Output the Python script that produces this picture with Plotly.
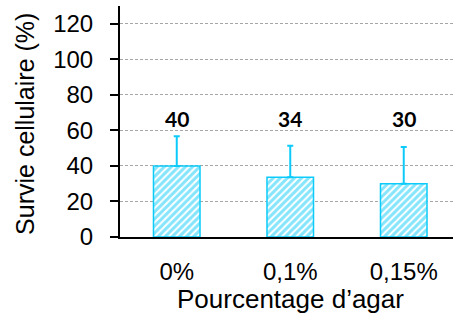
import plotly.graph_objects as go

categories = ["0%", "0,1%", "0,15%"]
survie = [40, 33.6, 30]
erreur = [16.7, 17.8, 20.6]
labels = ["40", "34", "30"]
y_ticks = [0, 20, 40, 60, 80, 100, 120]
y_max = 130

cyan = "#0CCBFA"
font = "Liberation Sans, Arial, sans-serif"

fig = go.Figure()
fig.add_trace(go.Bar(
    x=list(range(len(categories))),
    y=survie,
    width=0.41,
    marker=dict(
        color="white",
        line=dict(color=cyan, width=1.5),
        pattern=dict(shape="/", fgcolor=cyan, bgcolor="white", size=5, solidity=0.6),
    ),
    error_y=dict(type="data", symmetric=False, array=erreur,
                 arrayminus=[0] * len(erreur), color=cyan, thickness=2, width=3),
))

for i, t in enumerate(labels):
    fig.add_annotation(x=i, y=66.5, text="<b>%s</b>" % t, showarrow=False,
                       font=dict(family="Lato, sans-serif", size=21, color="black"))

fig.add_annotation(x=1, y=-0.27, xref="x", yref="paper", text="Pourcentage d’agar",
                   showarrow=False, yanchor="middle",
                   font=dict(family=font, size=26, color="black"))

fig.add_annotation(x=-0.285, y=0.49, xref="paper", yref="paper", text="Survie cellulaire (%)",
                   showarrow=False, textangle=-90, xanchor="center", yanchor="middle",
                   font=dict(family=font, size=25, color="black"))

fig.update_layout(
    width=453, height=322,
    margin=dict(l=120, r=0, t=6, b=85),
    plot_bgcolor="white", paper_bgcolor="white",
    showlegend=False,
    font=dict(family=font, size=24, color="black"),
    xaxis=dict(
        range=[-0.5, 2.434], automargin=False,
        tickmode="array", tickvals=list(range(len(categories))), ticktext=categories,
        showline=True, linecolor="black", linewidth=2,
        ticks="", showgrid=False, zeroline=False,
        ticklabelstandoff=12,
        tickfont=dict(family=font, size=24),
    ),
    xaxis2=dict(
        overlaying="x", side="top", anchor="y", matches="x",
        showline=True, linecolor="black", linewidth=2.5,
        showticklabels=False, ticks="", showgrid=False, zeroline=False,
        automargin=False,
    ),
    yaxis=dict(
        range=[0, y_max], automargin=False,
        tickmode="array", tickvals=y_ticks,
        showline=True, linecolor="black", linewidth=2,
        ticks="outside", ticklen=8, tickwidth=2, tickcolor="black",
        showgrid=True, gridcolor="#A6A6A6", gridwidth=1, griddash="3px,2px",
        zeroline=False,
        ticklabelstandoff=12,
        tickfont=dict(family=font, size=24),
    ),
)

fig.write_html("out.html", config={"displayModeBar": False},
               post_script="document.body.style.margin='0';")
